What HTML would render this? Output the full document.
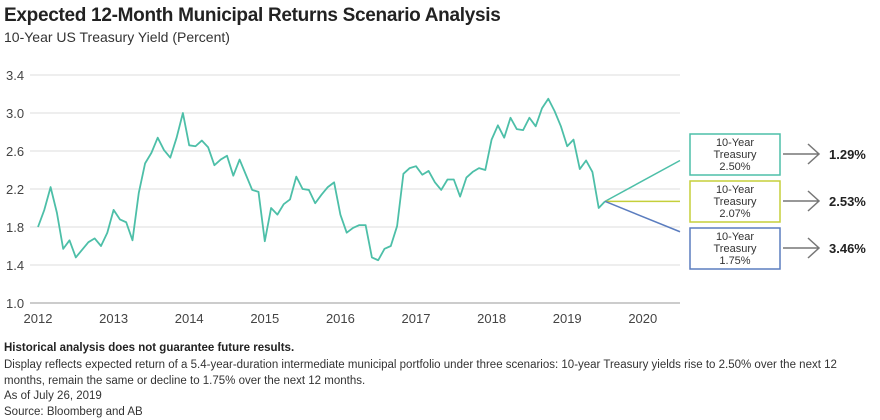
<!DOCTYPE html>
<html><head><meta charset="utf-8"><style>
body{margin:0;width:880px;height:420px;background:#fff;font-family:"Liberation Sans",sans-serif;color:#222;overflow:hidden;position:relative}
.t{position:absolute;left:4px;white-space:nowrap}
</style></head><body>
<div class="t" style="top:5px;font-size:19px;font-weight:bold;letter-spacing:-0.3px">Expected 12-Month Municipal Returns Scenario Analysis</div>
<div class="t" style="top:29px;font-size:14px;color:#333">10-Year US Treasury Yield (Percent)</div>
<svg id="c" width="880" height="340" style="position:absolute;left:0;top:0" font-family="Liberation Sans, sans-serif"></svg>
<div class="t" style="top:342px;font-size:11.5px;font-weight:bold">Historical analysis does not guarantee future results.</div>
<div class="t" style="top:358px;font-size:11.5px;line-height:15.5px;color:#333;white-space:normal;width:870px">Display reflects expected return of a 5.4-year-duration intermediate municipal portfolio under three scenarios: 10-year Treasury yields rise to 2.50% over the next 12 months, remain the same or decline to 1.75% over the next 12 months.<br>As of July 26, 2019<br>Source: Bloomberg and AB</div>
<script>
const yTicks=[1.0,1.4,1.8,2.2,2.6,3.0,3.4];
const years=[2012,2013,2014,2015,2016,2017,2018,2019,2020];
const yields=[1.80,1.98,2.22,1.95,1.57,1.66,1.48,1.56,1.64,1.68,1.60,1.74,
1.98,1.88,1.85,1.66,2.16,2.47,2.58,2.74,2.61,2.53,2.74,3.00,
2.66,2.65,2.71,2.64,2.45,2.51,2.55,2.34,2.51,2.35,2.19,2.17,
1.65,2.00,1.93,2.04,2.09,2.33,2.20,2.19,2.05,2.14,2.22,2.27,
1.93,1.74,1.79,1.82,1.82,1.48,1.45,1.57,1.60,1.81,2.36,2.42,
2.44,2.35,2.39,2.27,2.19,2.30,2.30,2.12,2.32,2.38,2.42,2.40,
2.72,2.87,2.74,2.95,2.83,2.82,2.95,2.86,3.05,3.15,3.02,2.86,
2.65,2.72,2.41,2.50,2.38,2.00,2.07];
const scenarioYields=[2.50,2.07,1.75];
const scenarioLabels=["2.50%","2.07%","1.75%"];
const scenarioReturns=["1.29%","2.53%","3.46%"];
const colors=["#4dbfa8","#c5cf3a","#5b7dbf"];
const ns="http://www.w3.org/2000/svg",svg=document.getElementById('c');
const X=m=>38+m*75.6/12, Y=v=>303-(v-1.0)*95;
function el(t,a,p){const e=document.createElementNS(ns,t);for(const k in a)e.setAttribute(k,a[k]);(p||svg).appendChild(e);return e;}
yTicks.forEach(v=>{
 const l=el('line',{x1:30,x2:680,y1:Y(v),y2:Y(v),stroke:v===1.0?'#ccc':'#e3e3e3','stroke-width':v===1.0?2:1.2});
 
 
 const t=el('text',{x:6,y:Y(v)+5,'font-size':13,fill:'#444'});t.textContent=v.toFixed(1);
 
 
});
years.forEach((yr,i)=>{
 const t=el('text',{x:X(i*12),y:323,'font-size':13,fill:'#444','text-anchor':'middle'});t.textContent=yr;
 
 
});
const p=el('polyline',{points:yields.map((v,i)=>X(i)+','+Y(v)).join(' '),fill:'none',stroke:'#4dbfa8','stroke-width':1.8,'stroke-linejoin':'round'});


const last=yields.length-1;
scenarioYields.forEach((v,i)=>{
 const l=el('line',{x1:X(last),y1:Y(yields[last]),x2:680,y2:Y(v),stroke:colors[i],'stroke-width':1.5});
 
 
 const by=134+i*47;
 const r=el('rect',{x:690,y:by,width:90,height:41,fill:'#fff',stroke:colors[i],'stroke-width':1.5});
 
 
 ['10-Year','Treasury',scenarioLabels[i]].forEach((s,k)=>{
  const t=el('text',{x:735,y:by+12+k*12,'font-size':11,fill:'#333','text-anchor':'middle'});t.textContent=s;
  
  
 });
 const cy=by+20;
 const a=el('path',{d:`M783 ${cy}H819M808 ${cy-10}L819 ${cy}L808 ${cy+10}`,fill:'none',stroke:'#777','stroke-width':1.5});
 
 
 const t=el('text',{x:829,y:cy+5,'font-size':13,'font-weight':'bold',fill:'#222'});t.textContent=scenarioReturns[i];
 
 
});
</script>
</body></html>
